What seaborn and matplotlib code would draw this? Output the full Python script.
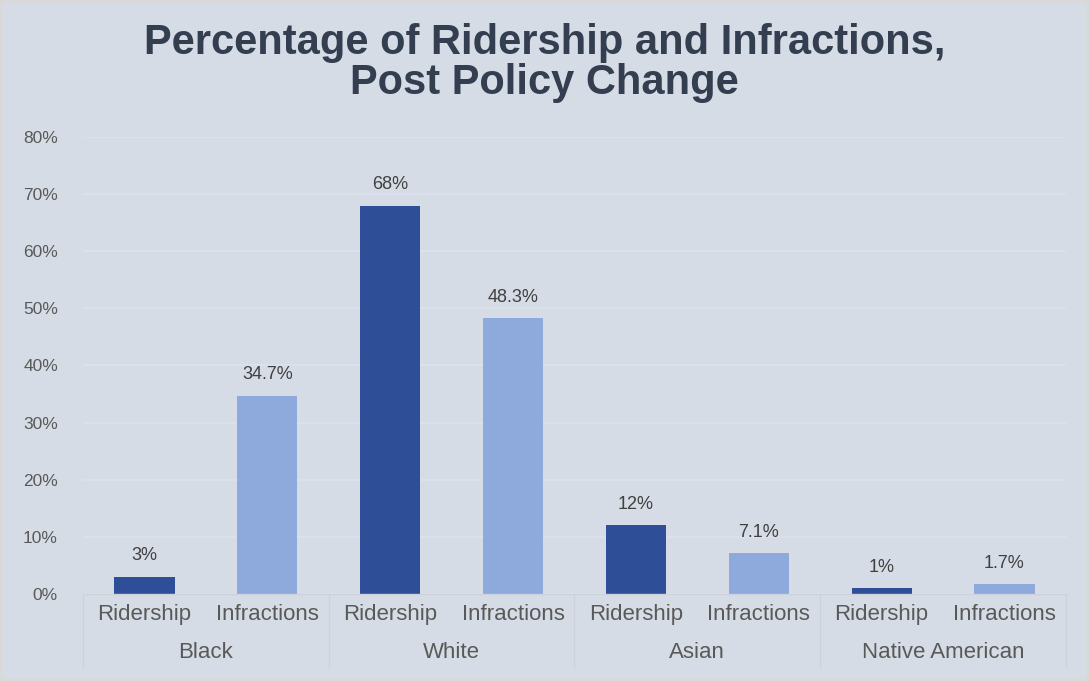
import matplotlib
matplotlib.use("Agg")
import matplotlib.pyplot as plt
from matplotlib.lines import Line2D
from matplotlib.patches import Rectangle
import seaborn as sns
import pandas as pd

groups = ["Black", "White", "Asian", "Native American"]
metrics = ["Ridership", "Infractions"]
ridership = [3, 68, 12, 1]
infractions = [34.7, 48.3, 7.1, 1.7]
value_labels_r = ["3%", "68%", "12%", "1%"]
value_labels_i = ["34.7%", "48.3%", "7.1%", "1.7%"]
y_ticks = [0, 10, 20, 30, 40, 50, 60, 70, 80]

BG = "#d6dce5"
DARK = "#2e4f97"
LIGHT = "#8ea9dc"
TITLE_C = "#333f50"
TEXT_C = "#595959"

rows = []
for g, r, i, lr, li in zip(groups, ridership, infractions, value_labels_r, value_labels_i):
    rows.append({"slot": f"{g}|Ridership", "group": g, "metric": "Ridership", "value": r, "label": lr})
    rows.append({"slot": f"{g}|Infractions", "group": g, "metric": "Infractions", "value": i, "label": li})
df = pd.DataFrame(rows)
order = list(df["slot"])

sns.set_theme(style="white")
plt.rcParams["font.family"] = ["Liberation Sans", "DejaVu Sans"]

fig = plt.figure(figsize=(10.89, 6.81), dpi=100, facecolor=BG)
fig.patches.append(Rectangle((0, 0), 1, 1, transform=fig.transFigure, fill=False,
                             edgecolor="#d9d9d9", linewidth=4, zorder=0))
ax = fig.add_axes([0.0762, 0.1278, 0.9026, 0.671])
ax.set_facecolor(BG)

sns.barplot(data=df, x="slot", y="value", hue="metric", order=order,
            hue_order=metrics, palette={"Ridership": DARK, "Infractions": LIGHT},
            dodge=False, width=0.49, saturation=1, linewidth=0, edgecolor="none",
            legend=False, ax=ax, zorder=3)

ax.set_xlim(-0.5, len(order) - 0.5)
ax.set_ylim(0, 80)
ax.set_yticks(y_ticks)
ax.set_yticklabels([f"{t}%" for t in y_ticks], color=TEXT_C, fontsize=12.5)
ax.tick_params(axis="y", length=0, pad=18)
ax.grid(axis="y", color="#dde3ee", linewidth=1.2, zorder=0)
for s in ax.spines.values():
    s.set_visible(False)

# value labels over each bar
for k, row in df.iterrows():
    ax.annotate(row["label"], (k, row["value"]), xytext=(0, 9),
                textcoords="offset points", ha="center", va="bottom",
                fontsize=13, color="#404040")

# two-level category axis
ax.set_xticks(range(len(order)))
ax.set_xticklabels(list(df["metric"]), color=TEXT_C, fontsize=16)
ax.tick_params(axis="x", length=0, pad=7)
ax.set_xlabel("")
ax.set_ylabel("")

trans = ax.get_xaxis_transform()
sep_c = "#ccd1da"
ax.add_line(Line2D([-0.5, len(order) - 0.5], [0, 0], transform=trans,
                   color=sep_c, linewidth=1, clip_on=False, zorder=4))
for b in [-0.5, 1.5, 3.5, 5.5, 7.5]:
    ax.add_line(Line2D([b, b], [0, -0.16], transform=trans, color=sep_c,
                       linewidth=1, clip_on=False))
for gi, g in enumerate(groups):
    ax.text(gi * 2 + 0.5, -0.127, g, transform=trans, ha="center", va="center",
            fontsize=16, color=TEXT_C)

fig.text(0.5, 0.907, "Percentage of Ridership and Infractions,\nPost Policy Change",
         ha="center", va="center", fontsize=30, fontweight="bold", color=TITLE_C,
         family=["Liberation Sans Narrow", "Liberation Sans", "DejaVu Sans"],
         linespacing=1.0)

fig.savefig("out.png", dpi=100, facecolor=BG)
